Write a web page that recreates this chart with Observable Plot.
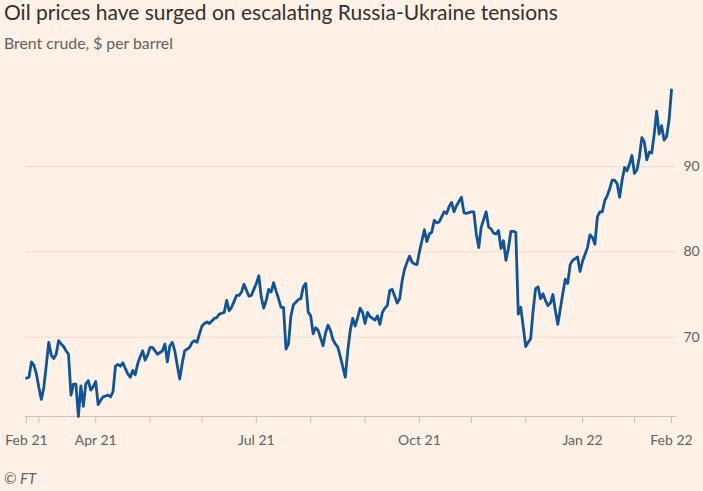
<!DOCTYPE html>
<html>
<head>
<meta charset="utf-8">
<script src="https://cdn.jsdelivr.net/npm/d3@7"></script>
<script src="https://cdn.jsdelivr.net/npm/@observablehq/plot@0.6"></script>
<style>
  html, body { margin: 0; padding: 0; background: #fff1e5; }
  #wrap { position: relative; width: 703px; height: 491px; background: #fff1e5; overflow: hidden; font-family: Lato, "Open Sans", sans-serif; }
  #title { position: absolute; left: 4px; top: -1px; font-size: 21px; color: #33302e; white-space: nowrap; }
  #subtitle { position: absolute; left: 4px; top: 33px; font-size: 15.8px; color: #66605c; white-space: nowrap; }
  #chart { position: absolute; left: 0; top: 60px; }
  #caption { position: absolute; left: 4px; top: 469px; font-size: 15px; font-style: italic; color: #66605c; }
</style>
</head>
<body>
<div id="wrap">
  <div id="title">Oil prices have surged on escalating Russia-Ukraine tensions</div>
  <div id="subtitle">Brent crude, $ per barrel</div>
  <div id="chart"></div>
  <div id="caption">© FT</div>
</div>
<script>
// Brent crude, $ per barrel — one value per trading day (Mon–Fri) from firstDay to lastDay
const firstDay = "2021-02-22";
const lastDay = "2022-02-22";
const prices = [
  65.2, 65.3, 67.1, 66.7, 65.7,   // w/c 22 Feb 2021
  64.1, 62.7, 64.1, 66.7, 69.4,   // 1 Mar
  67.9, 67.5, 68.0, 69.6, 69.2,   // 8 Mar
  68.9, 68.4, 68.0, 63.2, 64.5,   // 15 Mar
  64.5, 60.7, 64.3, 61.9, 64.5,   // 22 Mar
  64.9, 63.8, 64.2, 64.8, 62.1,   // 29 Mar
  62.6, 63.0, 63.1, 63.2, 63.0,   // 5 Apr
  63.6, 66.6, 66.8, 66.6, 67.0,   // 12 Apr
  66.3, 65.7, 65.3, 66.1, 65.6,   // 19 Apr
  66.9, 67.7, 68.4, 67.3, 67.9,   // 26 Apr
  68.8, 68.8, 68.4, 68.0, 68.2,   // 3 May
  68.4, 69.2, 67.1, 69.0, 69.4,   // 10 May
  68.4, 66.7, 65.1, 66.9, 68.4,   // 17 May
  68.6, 68.8, 69.4, 69.6, 69.4,   // 24 May
  70.4, 71.3, 71.6, 71.8, 71.6,   // 31 May
  71.9, 72.2, 72.3, 72.7, 72.8,   // 7 Jun
  72.9, 74.3, 73.1, 73.5, 74.2,   // 14 Jun
  74.9, 74.9, 75.3, 76.2, 75.5,   // 21 Jun
  74.8, 74.9, 75.6, 76.3, 77.2,   // 28 Jun
  74.7, 73.4, 74.3, 75.6, 75.3,   // 5 Jul
  76.4, 75.4, 74.5, 73.5, 73.5,   // 12 Jul
  68.6, 69.2, 72.5, 73.8, 74.1,   // 19 Jul
  74.4, 74.5, 75.9, 76.3, 72.9,   // 26 Jul
  72.5, 70.4, 71.1, 70.8, 69.9,   // 2 Aug
  69.0, 70.5, 71.4, 70.8, 69.7,   // 9 Aug
  69.2, 68.8, 67.7, 66.5, 65.3,   // 16 Aug
  68.4, 70.8, 72.2, 71.3, 72.3,   // 23 Aug
  73.4, 72.9, 71.6, 72.9, 72.4,   // 30 Aug
  72.2, 72.0, 72.5, 71.5, 72.9,   // 6 Sep
  73.4, 73.7, 75.5, 75.6, 74.8,   // 13 Sep
  74.0, 74.5, 76.6, 78.0, 78.8,   // 20 Sep
  79.5, 78.8, 78.6, 78.5, 80.0,   // 27 Sep
  81.3, 82.6, 81.2, 82.1, 82.3,   // 4 Oct
  83.7, 83.4, 83.5, 84.1, 84.7,   // 11 Oct
  84.5, 85.3, 85.8, 84.7, 85.4,   // 18 Oct
  85.9, 86.4, 84.6, 84.5, 84.6,   // 25 Oct
  84.7, 84.7, 82.1, 80.5, 82.9,   // 1 Nov
  83.8, 84.7, 82.9, 82.7, 82.2,   // 8 Nov
  82.1, 82.5, 80.4, 81.3, 79.0,   // 15 Nov
  80.4, 82.4, 82.4, 82.3, 72.7,   // 22 Nov
  73.5, 71.2, 68.9, 69.4, 69.8,   // 29 Nov
  73.1, 75.7, 75.9, 74.5, 75.1,   // 6 Dec
  74.3, 73.7, 74.0, 75.0, 73.1,   // 13 Dec
  71.5, 73.3, 75.1, 76.8, 76.3,   // 20 Dec
  78.5, 79.0, 79.2, 79.4, 77.7,   // 27 Dec
  78.9, 79.7, 80.5, 82.0, 81.7,   // 3 Jan 2022
  80.9, 84.1, 84.7, 84.7, 86.0,   // 10 Jan
  86.6, 87.4, 88.4, 88.4, 88.0,   // 17 Jan
  86.4, 88.4, 89.9, 89.5, 90.3,   // 24 Jan
  91.3, 89.2, 89.6, 91.1, 93.4,   // 31 Jan
  92.9, 90.8, 91.7, 91.6, 93.8,   // 7 Feb
  96.5, 93.8, 94.8, 93.1, 93.5,   // 14 Feb
  95.4, 99.0                      // 21 Feb
];

// x-axis ticks (month starts, first trading day) and their labels
const tickDates  = ["2021-02-22","2021-03-01","2021-04-01","2021-05-03","2021-06-01","2021-07-01","2021-08-02","2021-09-01","2021-10-01","2021-11-01","2021-12-01","2022-01-03","2022-02-01","2022-02-22"];
const tickLabels = ["Feb 21","","Apr 21","","","Jul 21","","","Oct 21","","","Jan 22","","Feb 22"];
const yTicks = [70, 80, 90];

// trading-day calendar (weekdays), used as the x position
const days = d3.utcDay.range(new Date(firstDay), d3.utcDay.offset(new Date(lastDay), 1))
  .filter(d => d.getUTCDay() % 6 !== 0);
const dayIndex = new Map(days.map((d, i) => [d3.utcFormat("%Y-%m-%d")(d), i]));
const data = prices.map((v, i) => ({i, date: days[i], v}));
const tickIdx = tickDates.map(s => dayIndex.get(s));
const labelOf = new Map(tickIdx.map((t, k) => [t, tickLabels[k]]));
const labelIdx = tickIdx.filter(t => labelOf.get(t) !== "");
const yDomain = d3.extent(prices);

const chart = Plot.plot({
  width: 703,
  height: 400,
  marginTop: 29.3,
  marginBottom: 44,
  marginLeft: 25,
  marginRight: 27,
  style: {background: "transparent", fontFamily: "Lato, 'Open Sans', sans-serif", fontSize: "14px", color: "#66605c", overflow: "visible"},
  x: {type: "linear", domain: [0, days.length - 1], range: [26, 671], axis: null, label: null},
  y: {domain: yDomain, axis: null, label: null},
  marks: [
    Plot.ruleY(yTicks, {stroke: "#e9ddd1", strokeWidth: 1}),
    Plot.axisY({anchor: "right", ticks: yTicks, tickSize: 0, tickPadding: 7, color: "#66605c", label: null}),
    Plot.ruleY([yDomain[0]], {stroke: "#cdc0b4", strokeWidth: 1}),
    Plot.axisX({ticks: tickIdx, tickSize: 7, tickFormat: () => "", color: "#cdc0b4", label: null}),
    Plot.axisX({ticks: labelIdx, tickSize: 0, tickPadding: 19, tickFormat: t => labelOf.get(t), color: "#66605c", label: null}),
    Plot.line(data, {x: "i", y: "v", stroke: "#0f5499", strokeWidth: 2.8, strokeLinejoin: "round"})
  ]
});
document.getElementById("chart").appendChild(chart);
</script>
</body>
</html>
